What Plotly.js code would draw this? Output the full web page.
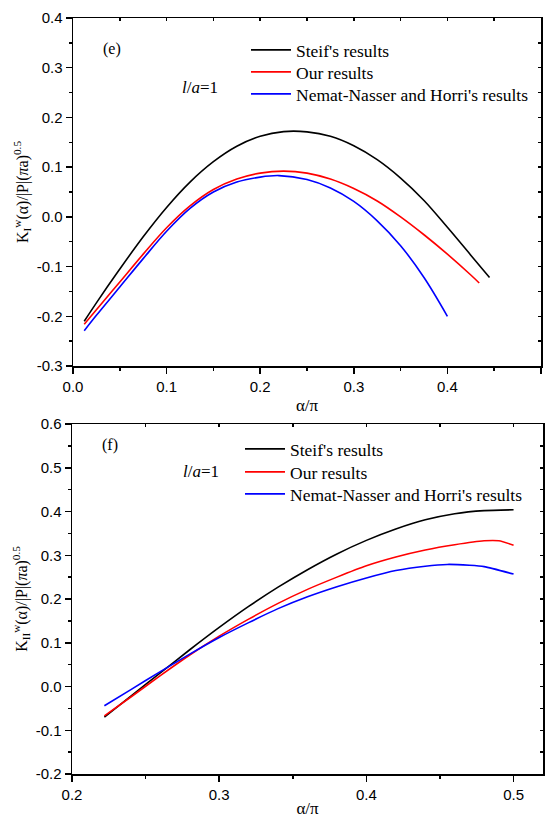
<!DOCTYPE html>
<html><head><meta charset="utf-8">
<script src="https://cdn.plot.ly/plotly-3.0.1.min.js"></script>
<style>html,body{margin:0;padding:0;background:#fff}#chart{width:551px;height:818px}</style>
</head><body><div id="chart"></div>
<script>
// ---------- data: panel (e) ----------
const eSteifX = [0.012, 0.025, 0.05, 0.075, 0.1, 0.125, 0.15, 0.175, 0.2, 0.225, 0.25, 0.275, 0.3, 0.325, 0.35, 0.375, 0.4, 0.425, 0.445];
const eSteifY = [-0.210, -0.173, -0.105, -0.040, 0.019, 0.070, 0.111, 0.142, 0.162, 0.1715, 0.171, 0.162, 0.143, 0.115, 0.078, 0.033, -0.021, -0.077, -0.122];
const eOurX = [0.012, 0.025, 0.05, 0.075, 0.1, 0.125, 0.15, 0.175, 0.2, 0.225, 0.25, 0.275, 0.3, 0.325, 0.35, 0.375, 0.4, 0.425, 0.434];
const eOurY = [-0.216, -0.187, -0.131, -0.075, -0.022, 0.022, 0.055, 0.076, 0.088, 0.092, 0.088, 0.076, 0.057, 0.032, 0.000, -0.036, -0.075, -0.117, -0.133];
const eNNX = [0.012, 0.025, 0.05, 0.075, 0.1, 0.125, 0.15, 0.175, 0.2, 0.22, 0.25, 0.275, 0.3, 0.325, 0.35, 0.375, 0.4];
const eNNY = [-0.229, -0.198, -0.141, -0.084, -0.029, 0.017, 0.050, 0.070, 0.080, 0.083, 0.075, 0.058, 0.031, -0.008, -0.058, -0.122, -0.200];

// ---------- data: panel (f) ----------
const fSteifX = [0.222, 0.24, 0.26, 0.28, 0.30, 0.32, 0.34, 0.36, 0.38, 0.40, 0.42, 0.44, 0.46, 0.48, 0.50];
const fSteifY = [-0.070, -0.022, 0.031, 0.084, 0.135, 0.183, 0.227, 0.267, 0.303, 0.334, 0.360, 0.381, 0.395, 0.402, 0.404];
const fOurX = [0.222, 0.24, 0.26, 0.28, 0.30, 0.32, 0.34, 0.36, 0.38, 0.40, 0.42, 0.44, 0.46, 0.48, 0.49, 0.50];
const fOurY = [-0.067, -0.024, 0.025, 0.072, 0.115, 0.154, 0.190, 0.222, 0.250, 0.276, 0.296, 0.312, 0.324, 0.333, 0.333, 0.323];
const fNNX = [0.222, 0.24, 0.26, 0.28, 0.30, 0.32, 0.34, 0.36, 0.38, 0.40, 0.42, 0.44, 0.455, 0.47, 0.48, 0.50];
const fNNY = [-0.044, -0.007, 0.034, 0.074, 0.112, 0.146, 0.178, 0.205, 0.228, 0.248, 0.265, 0.275, 0.279, 0.277, 0.274, 0.257];

// ---------- ticks / labels ----------
const seriesNames = ["Steif's results", "Our results", "Nemat-Nasser and Horri's results"];
const seriesColors = ['#000000', '#ff0000', '#0000ff'];
const eXTicks = [0, 0.1, 0.2, 0.3, 0.4, 0.5];
const eXTickText = ['0.0', '0.1', '0.2', '0.3', '0.4', '0.5'];
const eYTicks = [-0.3, -0.2, -0.1, 0, 0.1, 0.2, 0.3, 0.4];
const eYTickText = ['-0.3', '-0.2', '-0.1', '0.0', '0.1', '0.2', '0.3', '0.4'];
const fXTicks = [0.2, 0.3, 0.4, 0.5];
const fXTickText = ['0.2', '0.3', '0.4', '0.5'];
const fYTicks = [-0.2, -0.1, 0, 0.1, 0.2, 0.3, 0.4, 0.5, 0.6];
const fYTickText = ['-0.2', '-0.1', '0.0', '0.1', '0.2', '0.3', '0.4', '0.5', '0.6'];

// ---------- layout helpers ----------
const W = 551, H = 818, ML = 72, MR = 8, MT = 18, MB = 44;
const PW = W - ML - MR, PH = H - MT - MB;
const px = x => (x - ML) / PW;
const py = y => (H - MB - y) / PH;
const serif = '"Liberation Serif", "Times New Roman", serif';
const sans = '"Liberation Sans", Arial, sans-serif';
const tickFont = {family: sans, size: 15, color: '#000'};
const minorTicks = {tickmode: 'linear', tick0: 0, dtick: 0.05, ticks: 'outside', ticklen: 3, tickwidth: 1.5, tickcolor: '#000', showgrid: false};

function mainAxis(o) {
  return Object.assign({
    tickmode: 'array', ticks: 'outside', ticklen: 6, tickwidth: 1.5, tickcolor: '#000',
    minor: minorTicks,
    showline: true, linewidth: 1.5, linecolor: '#000', showgrid: false, zeroline: false,
    tickfont: tickFont, fixedrange: true
  }, o);
}
function mirrorAxis(o) {
  return Object.assign({
    tickmode: 'linear', ticks: 'inside', ticklen: 3, tickwidth: 1.5, tickcolor: '#000',
    showline: true, linewidth: 1.5, linecolor: '#000', showgrid: false, zeroline: false,
    showticklabels: false, fixedrange: true
  }, o);
}

const eX = [0, 0.5], eY = [-0.3, 0.4], fX = [0.2, 0.52], fY = [-0.2, 0.6];
const eDomX = [px(73), px(541)], eDomY = [py(366), 1];
const fDomX = [0, 1], fDomY = [0, py(424)];

const traces = [];
const eData = [[eSteifX, eSteifY], [eOurX, eOurY], [eNNX, eNNY]];
const fData = [[fSteifX, fSteifY], [fOurX, fOurY], [fNNX, fNNY]];
eData.forEach((d, i) => traces.push({
  x: d[0], y: d[1], type: 'scatter', mode: 'lines', name: seriesNames[i],
  line: {color: seriesColors[i], width: 1.6, shape: 'spline', smoothing: 1},
  xaxis: 'x', yaxis: 'y', legend: i === 0 ? 'legend' : 'legend' + (i + 1)
}));
fData.forEach((d, i) => traces.push({
  x: d[0], y: d[1], type: 'scatter', mode: 'lines', name: seriesNames[i],
  line: {color: seriesColors[i], width: 1.6, shape: 'spline', smoothing: 0.6},
  xaxis: 'x2', yaxis: 'y2', legend: 'legend' + (i + 4)
}));
traces.push({x: [], y: [], xaxis: 'x3', yaxis: 'y3', showlegend: false, type: 'scatter', hoverinfo: 'skip'});
traces.push({x: [], y: [], xaxis: 'x4', yaxis: 'y4', showlegend: false, type: 'scatter', hoverinfo: 'skip'});

const legendFont = {family: serif, size: 17.5, color: '#000'};
function leg(xp, yp) {
  return {x: px(xp), y: py(yp), xanchor: 'left', yanchor: 'middle', bgcolor: 'rgba(0,0,0,0)',
          borderwidth: 0, font: legendFont, itemwidth: 40, itemclick: false, itemdoubleclick: false};
}

const yTitleE = 'K<sub>I</sub><sup>w</sup>(α)/|P|(<i>π</i>a)<sup>0.5</sup>';
const yTitleF = 'K<sub>II</sub><sup>w</sup>(α)/|P|(<i>π</i>a)<sup>0.5</sup>';
const titleFont = {family: serif, size: 16, color: '#000'};

const layout = {
  width: W, height: H, margin: {l: ML, r: MR, t: MT, b: MB},
  paper_bgcolor: '#fff', plot_bgcolor: '#fff', showlegend: true,
  xaxis: mainAxis({domain: eDomX, range: eX, anchor: 'y', tickvals: eXTicks, ticktext: eXTickText,
    title: {text: 'α/π', font: {family: serif, size: 17, color: '#000'}, standoff: 5}}),
  yaxis: mainAxis({domain: eDomY, range: eY, anchor: 'x', tickvals: eYTicks, ticktext: eYTickText,
    title: {text: yTitleE, font: titleFont, standoff: 4}}),
  xaxis2: mainAxis({domain: fDomX, range: fX, anchor: 'y2', tickvals: fXTicks, ticktext: fXTickText,
    title: {text: 'α/π', font: {family: serif, size: 17, color: '#000'}, standoff: 5}}),
  yaxis2: mainAxis({domain: fDomY, range: fY, anchor: 'x2', tickvals: fYTicks, ticktext: fYTickText,
    title: {text: yTitleF, font: titleFont, standoff: 4}}),
  xaxis3: mirrorAxis({overlaying: 'x', side: 'top', anchor: 'y3', range: eX, tick0: 0, dtick: 0.05}),
  yaxis3: mirrorAxis({overlaying: 'y', side: 'right', anchor: 'x3', range: eY, tick0: 0, dtick: 0.05}),
  xaxis4: mirrorAxis({overlaying: 'x2', side: 'top', anchor: 'y4', range: fX, tick0: 0, dtick: 0.05}),
  yaxis4: mirrorAxis({overlaying: 'y2', side: 'right', anchor: 'x4', range: fY, tick0: 0, dtick: 0.05}),
  legend: leg(246, 50), legend2: leg(246, 72), legend3: leg(246, 94),
  legend4: leg(240, 449), legend5: leg(240, 472), legend6: leg(240, 494),
  annotations: [
    {text: '(e)', x: px(101), y: py(38), xref: 'paper', yref: 'paper', showarrow: false, font: {family: serif, size: 16, color: '#000'}},
    {text: '<i>l</i>/<i>a</i>=1', x: px(180), y: py(76), xref: 'paper', yref: 'paper', showarrow: false, font: {family: serif, size: 17, color: '#000'}},
    {text: '(f)', x: px(100), y: py(445), xref: 'paper', yref: 'paper', showarrow: false, font: {family: serif, size: 16, color: '#000'}},
    {text: '<i>l</i>/<i>a</i>=1', x: px(181), y: py(471), xref: 'paper', yref: 'paper', showarrow: false, font: {family: serif, size: 17, color: '#000'}}
  ]
};

Plotly.newPlot('chart', traces, layout, {staticPlot: true, displayModeBar: false});
</script>
</body></html>
